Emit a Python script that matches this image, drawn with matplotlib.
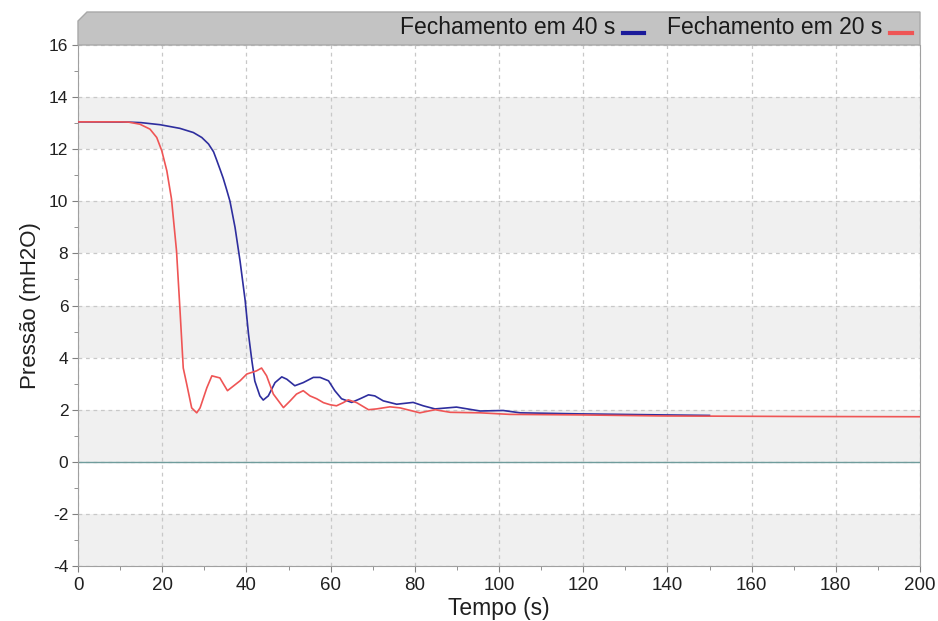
import matplotlib
matplotlib.use("Agg")
import matplotlib.pyplot as plt
from matplotlib.patches import Polygon
from matplotlib.ticker import MultipleLocator

plt.rcParams['font.family'] = ['Liberation Sans', 'DejaVu Sans']
plt.rcParams['axes.unicode_minus'] = False

# Data: Fechamento em 20 s (red)
t_20 = [0, 10, 12, 14.7, 17.1, 18.7, 19.9, 21.1, 22.2, 23.4, 24.2, 25.0, 25.8, 27.0, 28.2, 29.0,
        30.6, 31.8, 33.7, 34.5, 35.5, 37.0, 38.5, 40.1, 42.4, 43.6, 44.8, 46.4, 48.8, 50.4,
        51.9, 53.5, 55.1, 56.7, 58.3, 59.9, 61.4, 63.0, 64.2, 66.2, 69.0, 70.9, 74.1, 76.5,
        81.2, 84.8, 88.4, 95.5, 102.6, 119, 139, 170, 200]
p_20 = [13.05, 13.05, 13.04, 12.96, 12.77, 12.45, 11.94, 11.17, 10.1, 8.1, 5.9, 3.6, 3.0, 2.07, 1.88, 2.07,
        2.84, 3.3, 3.22, 3.0, 2.73, 2.92, 3.11, 3.37, 3.49, 3.6, 3.3, 2.6, 2.08, 2.34,
        2.6, 2.73, 2.53, 2.42, 2.27, 2.19, 2.15, 2.27, 2.38, 2.27, 2.0, 2.03, 2.11, 2.07,
        1.88, 2.0, 1.9, 1.88, 1.82, 1.8, 1.76, 1.74, 1.73]

# Data: Fechamento em 40 s (blue)
t_40 = [0, 12, 15, 19.5, 24.2, 27.4, 29.4, 31.0, 32.2, 32.9, 33.8, 34.5, 35.3, 36.1, 37.3, 38.5,
        39.7, 40.5, 41.3, 42.0, 43.2, 44.0, 45.2, 46.8, 48.4, 49.6, 51.5, 53.5, 55.9, 57.5,
        59.5, 61.0, 62.6, 65.0, 67.0, 69.0, 70.5, 72.5, 75.7, 79.6, 82.0, 84.8, 89.9, 95.5,
        101, 105, 119, 139, 150]
p_40 = [13.05, 13.04, 13.02, 12.94, 12.8, 12.64, 12.45, 12.2, 11.9, 11.6, 11.2, 10.88, 10.45, 10.0,
        9.0, 7.7, 6.2, 4.9, 3.88, 3.1, 2.53, 2.37, 2.53, 3.04, 3.26, 3.17, 2.92, 3.04, 3.24,
        3.24, 3.11, 2.73, 2.42, 2.28, 2.42, 2.57, 2.53, 2.34, 2.21, 2.28, 2.15, 2.03, 2.1,
        1.95, 1.97, 1.88, 1.84, 1.8, 1.78]

series_labels = ["Fechamento em 40 s", "Fechamento em 20 s"]
blue = "#2e2e9e"
red = "#ef5555"

W, H = 938, 621
fig = plt.figure(figsize=(W / 100, H / 100), dpi=100)
x0, x1, ytop, ybot = 78, 920, 45, 566
ax = fig.add_axes([x0 / W, 1 - ybot / H, (x1 - x0) / W, (ybot - ytop) / H])

ax.set_xlim(0, 200)
ax.set_ylim(-4, 16)
for lo in [12, 8, 4, 0, -4]:
    ax.axhspan(lo, lo + 2, color="#f0f0f0", zorder=0, lw=0)

ax.xaxis.set_major_locator(MultipleLocator(20))
ax.xaxis.set_minor_locator(MultipleLocator(10))
ax.yaxis.set_major_locator(MultipleLocator(2))
ax.yaxis.set_minor_locator(MultipleLocator(1))
ax.grid(True, which="major", ls=(0, (3, 3)), color="#c8c8c8", lw=0.9, zorder=1)
ax.axhline(0, color="#6f9c9c", lw=1.0, zorder=2)

ax.plot(t_40, p_40, color=blue, lw=1.2, zorder=3)
ax.plot(t_20, p_20, color=red, lw=1.2, zorder=4)

for s in ["left", "bottom", "right"]:
    ax.spines[s].set_color("#a0a0a0")
ax.spines["top"].set_visible(False)
ax.tick_params(which="both", direction="out", color="#808080", labelcolor="#202020")
ax.tick_params(axis="x", labelsize=13.5, pad=4)
ax.tick_params(axis="y", labelsize=12.5, pad=3)
ax.tick_params(which="major", length=4)
ax.tick_params(which="minor", length=3)

ax.set_xlabel("Tempo (s)", fontsize=16.5, labelpad=2, color="#202020")
ax.set_ylabel("Pressão (mH2O)", fontsize=16, labelpad=6, color="#202020")

# Header band with bevelled top-left corner
hx0, hx1, hy0, hy1, bev = x0, x1, 12, ytop, 9
pts = [(hx0, hy1), (hx0, hy0 + bev), (hx0 + bev, hy0), (hx1, hy0), (hx1, hy1)]
pts = [(px / W, 1 - py / H) for px, py in pts]
fig.add_artist(Polygon(pts, closed=True, transform=fig.transFigure,
                       facecolor="#c3c3c3", edgecolor="#a8a8a8", lw=1))

ty = 1 - 27.5 / H
fig.text(615 / W, ty, series_labels[0], ha="right", va="center", fontsize=16.5,
         color="#1a1a1a")
fig.add_artist(plt.Line2D([623 / W, 644 / W], [1 - 32.5 / H, 1 - 32.5 / H],
                          color="#1a1a9a", lw=3, transform=fig.transFigure))
fig.text(882 / W, ty, series_labels[1], ha="right", va="center", fontsize=16.5,
         color="#1a1a1a")
fig.add_artist(plt.Line2D([890 / W, 912 / W], [1 - 32.5 / H, 1 - 32.5 / H],
                          color=red, lw=3, transform=fig.transFigure))

fig.savefig("out.png", dpi=100)
